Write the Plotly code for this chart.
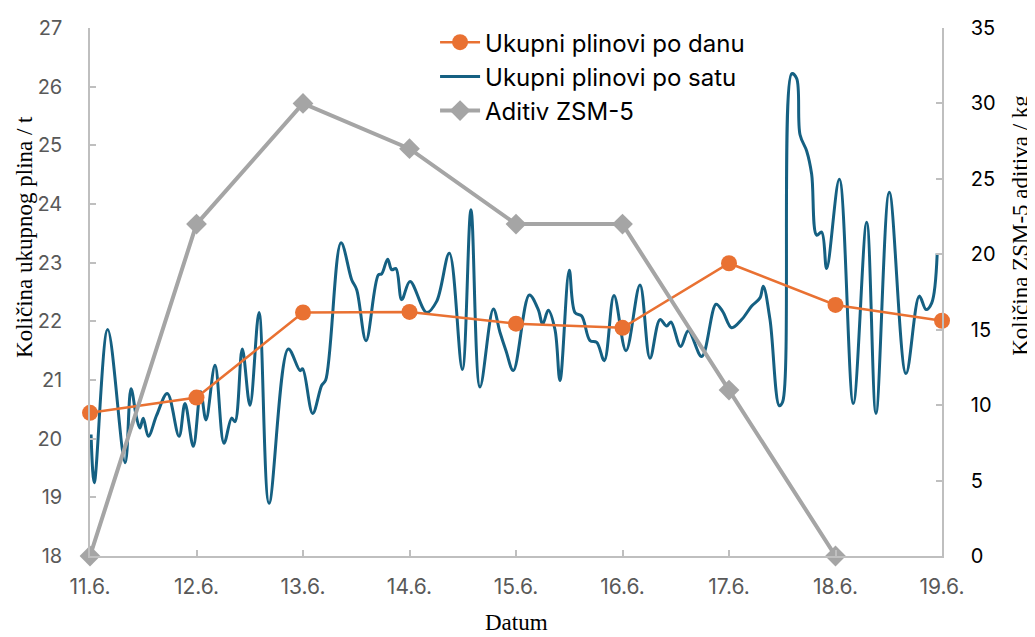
import plotly.graph_objects as go

# Category labels (days)
datumi = ["11.6.", "12.6.", "13.6.", "14.6.", "15.6.", "16.6.", "17.6.", "18.6.", "19.6."]
dan_pozicije = [0, 1, 2, 3, 4, 5, 6, 7, 8]

# Daily total gases (t)
plinovi_po_danu = [20.44, 20.70, 22.15, 22.16, 21.96, 21.89, 22.99, 22.28, 22.01]

# ZSM-5 additive (kg), days 11.6.-18.6.
zsm5_dani = [0, 1, 2, 3, 4, 5, 6, 7]
zsm5_kg = [0, 22, 30, 27, 22, 22, 11, 0]

# Hourly total gases: time (days since 11.6.) and value (t)
sat_vrijeme = [
    0.01, 0.04, 0.166, 0.33, 0.385, 0.438, 0.469, 0.50, 0.548, 0.626, 0.726, 0.836, 0.892,
    0.970, 1.039, 1.089, 1.174, 1.258, 1.33, 1.362, 1.43, 1.502, 1.587, 1.681, 1.862, 1.972,
    1.997, 2.091, 2.176, 2.213, 2.357, 2.457, 2.504, 2.592, 2.707, 2.739, 2.795, 2.833, 2.873,
    2.927, 3.005, 3.161, 3.255, 3.374, 3.496, 3.577, 3.662, 3.787, 3.85, 3.906, 3.975, 4.125,
    4.209, 4.25, 4.303, 4.366, 4.413, 4.50, 4.554, 4.617, 4.695, 4.758, 4.829, 4.92, 5.033,
    5.164, 5.258, 5.352, 5.415, 5.455, 5.546, 5.618, 5.744, 5.878, 5.94, 6.025, 6.119, 6.213,
    6.291, 6.322, 6.385, 6.472, 6.504, 6.589, 6.635, 6.667, 6.73, 6.776, 6.823, 6.87, 6.917,
    7.036, 7.167, 7.293, 7.38, 7.505, 7.662, 7.787, 7.85, 7.903, 7.955,
]
sat_plinovi = [
    20.07, 19.25, 21.86, 19.59, 20.85, 20.35, 20.18, 20.35, 20.04, 20.40, 20.77, 20.04, 20.60,
    19.87, 20.80, 20.32, 21.25, 19.92, 20.35, 20.29, 21.53, 20.57, 22.15, 18.90, 21.53, 21.16,
    21.19, 20.43, 20.91, 21.00, 23.34, 22.71, 22.54, 21.67, 22.79, 22.81, 23.06, 22.88, 22.90,
    22.37, 22.68, 22.15, 22.34, 23.16, 21.18, 23.90, 20.88, 22.21, 21.81, 21.50, 21.16, 22.45,
    22.20, 21.95, 22.19, 21.86, 20.99, 22.87, 22.15, 22.09, 21.67, 21.64, 21.33, 22.44, 21.50,
    22.62, 21.37, 22.03, 21.92, 21.99, 21.57, 21.84, 21.40, 22.29, 22.17, 21.89, 22.03, 22.26,
    22.40, 22.60, 22.03, 20.56, 20.63, 26.22, 26.14, 25.18, 24.90, 24.51, 23.47, 23.52, 22.90,
    24.42, 20.60, 23.69, 20.43, 24.20, 21.11, 22.43, 22.20, 22.31, 23.16,
]

ORANGE = "#E97132"
BLUE = "#156082"
GRAY = "#A5A5A5"
AXIS = "#BFBFBF"
SANS = "Inter, 'Noto Sans', sans-serif"
SERIF = "'Liberation Serif', 'DejaVu Serif', serif"

fig = go.Figure()

fig.add_trace(go.Scatter(
    x=sat_vrijeme, y=sat_plinovi, mode="lines", name="Ukupni plinovi po satu",
    line=dict(color=BLUE, width=3, shape="spline", smoothing=1.0),
    legendrank=2, yaxis="y",
))
fig.add_trace(go.Scatter(
    x=dan_pozicije, y=plinovi_po_danu, mode="lines+markers", name="Ukupni plinovi po danu",
    line=dict(color=ORANGE, width=2.5),
    marker=dict(symbol="circle", size=16, color=ORANGE),
    legendrank=1, yaxis="y", cliponaxis=False,
))
fig.add_trace(go.Scatter(
    x=zsm5_dani, y=zsm5_kg, mode="lines+markers", name="Aditiv ZSM-5",
    line=dict(color=GRAY, width=4),
    marker=dict(symbol="diamond", size=16, color=GRAY),
    legendrank=3, yaxis="y2", cliponaxis=False,
))

tick_common = dict(
    showgrid=False, zeroline=False, automargin=False,
    showline=True, linecolor=AXIS, linewidth=1.5,
    ticks="inside", ticklen=6, tickcolor=AXIS, tickwidth=1.5,
)

# the page body adds an 8px offset, so the figure is sized to fit the window
fig.update_layout(
    width=1027, height=629,
    margin=dict(l=82, r=93, t=14, b=81),
    paper_bgcolor="white", plot_bgcolor="white",
    showlegend=True,
    legend=dict(
        x=0.405, y=1.015, xanchor="left", yanchor="top",
        font=dict(family=SANS, size=24, color="#000000"),
        bgcolor="rgba(255,255,255,0)",
        itemwidth=40,
    ),
    xaxis=dict(
        range=[0, 8], tickmode="array", tickvals=dan_pozicije, ticktext=datumi,
        tickfont=dict(family=SANS, size=21, color="#595959"),
        ticklabelstandoff=11,
        **tick_common,
    ),
    yaxis=dict(
        range=[18, 27], dtick=1,
        tickfont=dict(family=SANS, size=20, color="#595959"),
        ticklabelstandoff=22,
        **tick_common,
    ),
    yaxis2=dict(
        range=[0, 35], dtick=5, overlaying="y", side="right",
        tickfont=dict(family=SANS, size=20, color="#000000"),
        ticklabelstandoff=23,
        **tick_common,
    ),
    annotations=[
        dict(text="Datum", xref="paper", yref="paper", x=0.5, y=-0.125,
             xanchor="center", yanchor="middle", showarrow=False,
             font=dict(family=SERIF, size=23, color="#000000")),
        dict(text="Količina ukupnog plina / t", xref="paper", yref="paper",
             x=-0.077, y=0.605, xanchor="center", yanchor="middle", textangle=-90,
             showarrow=False, font=dict(family=SERIF, size=23, color="#000000")),
        dict(text="Količina ZSM-5 aditiva / kg", xref="paper", yref="paper",
             x=1.092, y=0.626, xanchor="center", yanchor="middle", textangle=-90,
             showarrow=False, font=dict(family=SERIF, size=23, color="#000000")),
    ],
)

fig.write_html("out.html")
